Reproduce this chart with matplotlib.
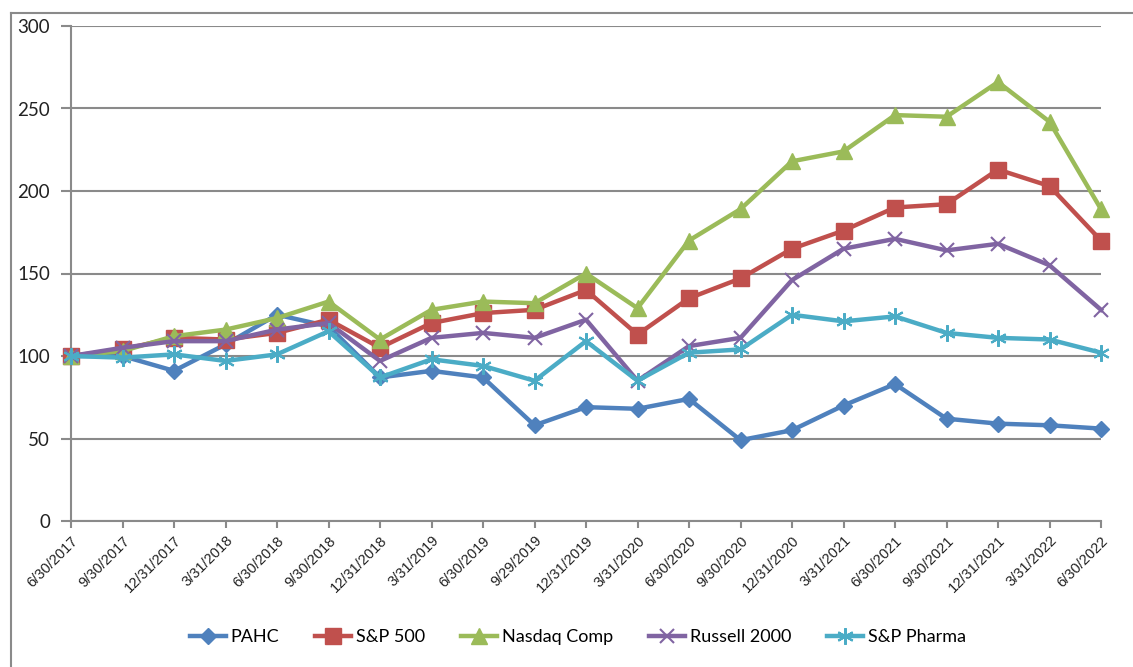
import numpy as np
import matplotlib.pyplot as plt
from matplotlib.lines import Line2D

# quarter-end labels
dates = ["6/30/2017", "9/30/2017", "12/31/2017", "3/31/2018", "6/30/2018",
         "9/30/2018", "12/31/2018", "3/31/2019", "6/30/2019", "9/29/2019",
         "12/31/2019", "3/31/2020", "6/30/2020", "9/30/2020", "12/31/2020",
         "3/31/2021", "6/30/2021", "9/30/2021", "12/31/2021", "3/31/2022",
         "6/30/2022"]

pahc = [100, 100, 91, 107, 125, 118, 87, 91, 87, 58, 69, 68, 74, 49, 55,
        70, 83, 62, 59, 58, 56]
sp500 = [100, 104, 111, 110, 114, 122, 105, 120, 126, 128, 140, 113, 135,
         147, 165, 176, 190, 192, 213, 203, 170]
nasdaq = [100, 103, 112, 116, 123, 133, 110, 128, 133, 132, 150, 129, 170,
          189, 218, 224, 246, 245, 266, 242, 189]
russell = [100, 105, 109, 109, 116, 120, 97, 111, 114, 111, 122, 85, 106,
           111, 146, 165, 171, 164, 168, 155, 128]
pharma = [100, 99, 101, 97, 101, 115, 87, 98, 94, 85, 109, 85, 102, 104,
          125, 121, 124, 114, 111, 110, 102]

fig = plt.figure(figsize=(11.33, 6.67), dpi=100)
ax = fig.add_axes([71/1133, 1 - 521/667, 1030/1133, 495/667])

x = np.arange(len(dates))
lw = 3.2
ax.plot(x, pahc, color="#4F81BD", lw=lw, marker="D", ms=8, label="PAHC",
        zorder=3, clip_on=False)
ax.plot(x, sp500, color="#C0504D", lw=lw, marker="s", ms=11, label="S&P 500",
        zorder=3, clip_on=False)
ax.plot(x, nasdaq, color="#9BBB59", lw=lw, marker="^", ms=11, label="Nasdaq Comp",
        zorder=3, clip_on=False)
ax.plot(x, russell, color="#8064A2", lw=lw, marker="x", ms=10, mew=1.5,
        label="Russell 2000", zorder=3, clip_on=False)
ax.plot(x, pharma, color="#4BACC6", lw=lw, marker=(6, 2, 0), ms=12, mew=1.5,
        label="S&P Pharma", zorder=3, clip_on=False)

ax.set_xlim(0, len(dates) - 1)
ax.set_ylim(0, 300)
ax.set_yticks(np.arange(0, 301, 50))
ax.set_xticks(x)
ax.set_xticklabels(dates, rotation=45, ha="right", rotation_mode="anchor",
                   fontsize=10.5, family="Liberation Sans", color="#222222")
for t in ax.get_yticklabels():
    t.set_fontsize(13.5)
    t.set_family("Lato")
    t.set_color("#222222")

ax.grid(axis="y", color="#8a8a8a", lw=1.5, zorder=0)
for s in ["top", "right"]:
    ax.spines[s].set_visible(False)
for s in ["left", "bottom"]:
    ax.spines[s].set_color("#8a8a8a")
    ax.spines[s].set_linewidth(1.5)
ax.tick_params(axis="y", length=7, width=1.5, color="#8a8a8a", pad=8)
ax.tick_params(axis="x", length=5, width=1.5, color="#8a8a8a", pad=4)

leg = fig.legend(loc="center", bbox_to_anchor=(0.51, 1 - 637/667), ncol=5,
                 frameon=False, prop={"family": "Lato", "size": 13},
                 handlelength=2.0, columnspacing=2.0, handletextpad=0.25)

# outer chart border (top and left visible)
fig.add_artist(Line2D([11/1133, 1], [1 - 13/667, 1 - 13/667], color="#8a8a8a", lw=1.5))
fig.add_artist(Line2D([11/1133, 11/1133], [0, 1 - 13/667], color="#8a8a8a", lw=1.5))

fig.savefig("out.png", dpi=100)
